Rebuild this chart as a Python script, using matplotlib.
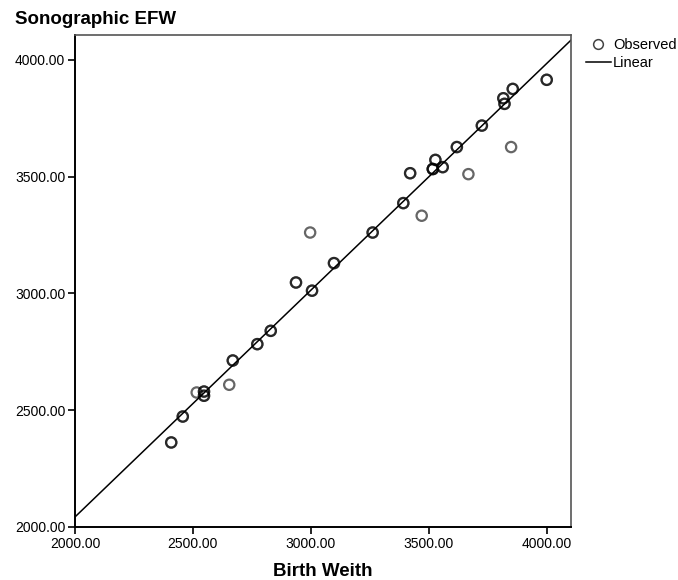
import numpy as np
import matplotlib.pyplot as plt
from matplotlib.lines import Line2D

plt.rcParams['font.family'] = ['Liberation Sans', 'DejaVu Sans']

# datos (peso al nacer vs EFW ecografico)
birth_weight = [2408, 2457, 2516, 2547, 2547, 2654, 2669, 2773, 2830, 2937,
                2997, 3005, 3098, 3262, 3392, 3470, 3421, 3517, 3528, 3559,
                3668, 3619, 3725, 3849, 3821, 3816, 3856, 4000]
sono_efw = [2362, 2473, 2576, 2580, 2562, 2609, 2713, 2783, 2840, 3047,
            3261, 3012, 3130, 3261, 3387, 3333, 3515, 3533, 3572, 3541,
            3511, 3627, 3719, 3627, 3812, 3836, 3876, 3915]
# cuantas observaciones se superponen en cada punto
overlap = [2, 2, 1, 2, 2, 1, 2, 2, 2, 2,
           1, 2, 2, 2, 2, 1, 2, 3, 2, 2,
           1, 2, 2, 1, 2, 2, 2, 2]

# recta ajustada (Linear)
fit_intercept = 101.0
fit_slope = 0.971

x_ticks = [2000, 2500, 3000, 3500, 4000]
y_ticks = [2000, 2500, 3000, 3500, 4000]
x_lim = (2000, 4103)
y_lim = (2000, 4107)

fig = plt.figure(figsize=(6.78, 5.8), dpi=100)
ax = fig.add_axes([0.1106, 0.0914, 0.7316, 0.8483])

bw = np.array(birth_weight)
ef = np.array(sono_efw)
n = np.array(overlap)

# dibujar cada capa de superposicion
for k in range(1, n.max() + 1):
    m = n >= k
    ax.scatter(bw[m], ef[m], s=55, facecolors='none', edgecolors='black',
               linewidths=1.6, alpha=0.6, zorder=3)

xx = np.array(x_lim)
ax.plot(xx, fit_intercept + fit_slope * xx, color='black', lw=1.1, zorder=2)

ax.set_xlim(*x_lim)
ax.set_ylim(*y_lim)
ax.set_xticks(x_ticks)
ax.set_yticks(y_ticks)
ax.set_xticklabels([f'{v:.2f}' for v in x_ticks])
ax.set_yticklabels([f'{v:.2f}' for v in y_ticks])
ax.tick_params(direction='out', length=5, width=1.2, labelsize=10, pad=2,
               colors='black')

for side in ['left', 'bottom']:
    ax.spines[side].set_linewidth(1.4)
    ax.spines[side].set_color('black')
for side in ['top', 'right']:
    ax.spines[side].set_linewidth(1.2)
    ax.spines[side].set_color('#555555')

ax.set_xlabel('Birth Weith', fontsize=13.5, fontweight='bold', labelpad=9)
fig.text(0.022, 0.966, 'Sonographic EFW', fontsize=13.5, fontweight='bold',
         ha='left', va='center')

handles = [Line2D([], [], marker='o', linestyle='none', markersize=7,
                  markerfacecolor='none', markeredgecolor='#444444',
                  markeredgewidth=1.1, label='Observed'),
           Line2D([], [], color='black', lw=1.1, label='Linear')]
fig.legend(handles=handles, loc='upper left', bbox_to_anchor=(0.864, 0.935),
           frameon=False, fontsize=10.5, handlelength=1.7, handletextpad=0.15,
           labelspacing=0.3, borderaxespad=0, borderpad=0)

fig.savefig('out.png', dpi=100)
